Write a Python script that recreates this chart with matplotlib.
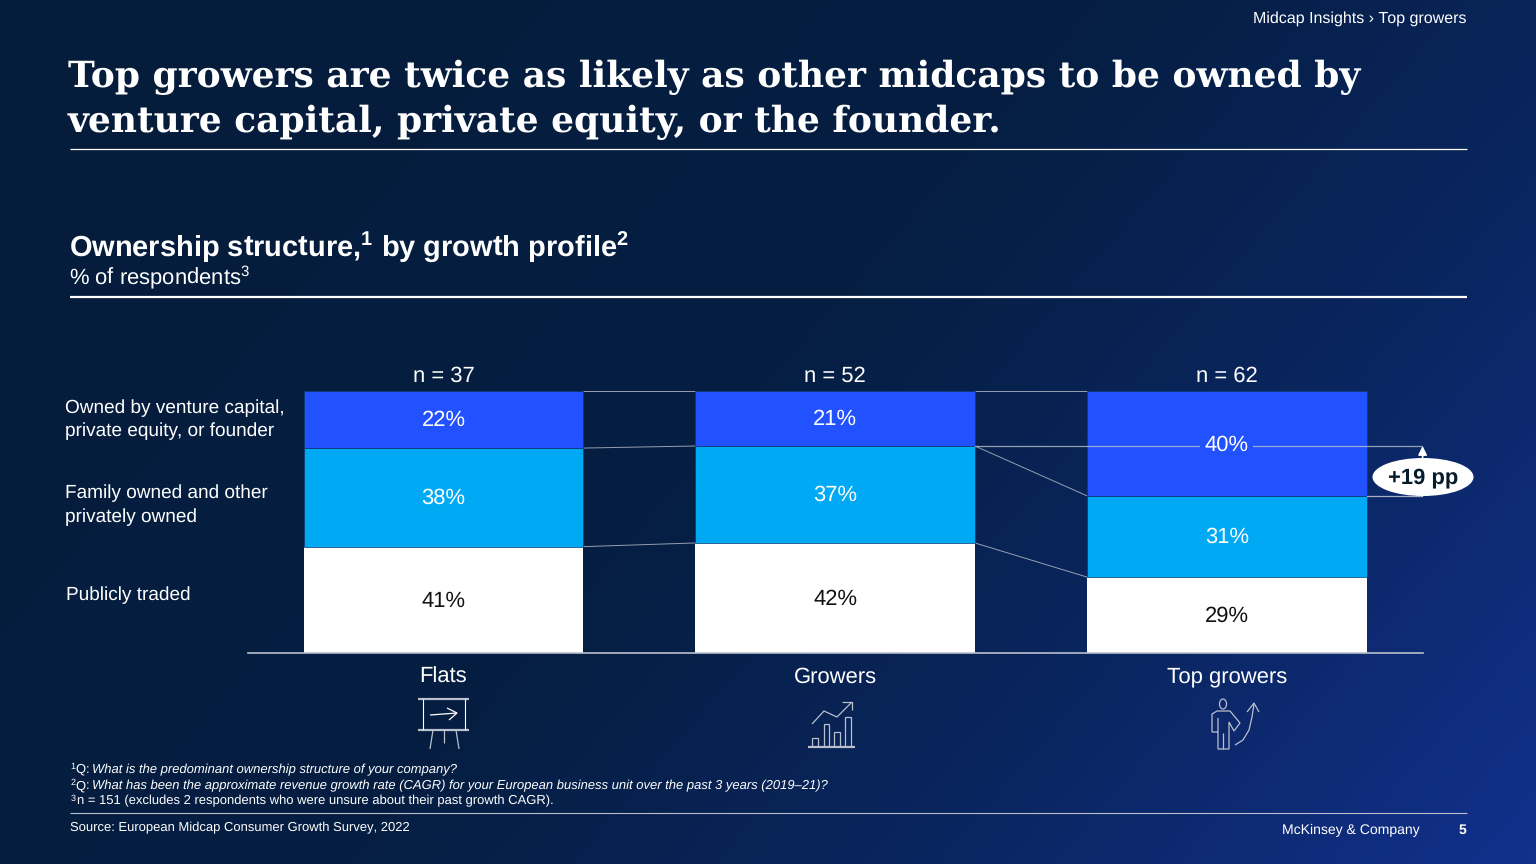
import numpy as np
import matplotlib
matplotlib.use("Agg")
import matplotlib.pyplot as plt
from matplotlib.colors import LinearSegmentedColormap
from matplotlib.patches import Ellipse

plt.rcParams["text.hinting"] = "none"
plt.rcParams["text.hinting_factor"] = 1
plt.rcParams["mathtext.default"] = "regular"

# ---------- data ----------
categories = ["Flats", "Growers", "Top growers"]
sample_sizes = ["n = 37", "n = 52", "n = 62"]
publicly_traded = [41, 42, 29]
family_owned = [38, 37, 31]
vc_pe_founder = [22, 21, 40]
series_labels = ["Owned by venture capital,\nprivate equity, or founder",
                 "Family owned and other\nprivately owned",
                 "Publicly traded"]
delta_label = "+19 pp"

SANS = "Liberation Sans"
SERIF = "DejaVu Serif"
WHITE = "#ffffff"
LINE = "#b9bfcc"
BLUE = "#2251ff"
CYAN = "#00a9f4"
NAVY = "#051c2c"

W, H = 1536, 864
fig = plt.figure(figsize=(W / 100, H / 100), dpi=100)

# ---------- background ----------
bg = fig.add_axes([0, 0, 1, 1], zorder=0)
yy, xx = np.mgrid[0:1:216j, 0:1:384j]
t = np.clip(0.78 * xx + 0.38 * yy, 0, 1.16) / 1.16
cmap = LinearSegmentedColormap.from_list(
    "bg", [(0, "#051c3a"), (0.48, "#051e42"), (0.74, "#0a2660"), (1, "#12308c")])
bg.imshow(t, cmap=cmap, aspect="auto", extent=[0, W, H, 0], interpolation="bilinear")
bg.set_xlim(0, W)
bg.set_ylim(H, 0)
bg.axis("off")

# ---------- chart ----------
ax = fig.add_axes([247.6 / W, 1 - 653 / H, 1175 / W, 262 / H], zorder=2)
ax.patch.set_alpha(0)
x = np.arange(len(categories))
pub = np.array(publicly_traded, float)
fam = np.array(family_owned, float)
vc = np.array(vc_pe_founder, float)
tot = pub + fam + vc
p1, p2, p3 = pub / tot * 100, fam / tot * 100, vc / tot * 100
bw = 0.714
edge = dict(edgecolor="#0b3a6c", linewidth=0.5)
ax.bar(x, p1, bw, color=WHITE, zorder=3)
ax.bar(x, p2, bw, bottom=p1, color=CYAN, zorder=3, **edge)
ax.bar(x, p3, bw, bottom=p1 + p2, color=BLUE, zorder=3, **edge)
ax.set_xlim(-0.5, 2.5)
ax.set_ylim(0, 100)
ax.axis("off")
ax.plot([-0.5, 2.5], [0, 0], color=LINE, lw=1.2, zorder=4, clip_on=False)

# connectors between the bars, through the cumulative boundaries
for lvl in (p1, p1 + p2, p1 + p2 + p3):
    for i in range(2):
        ax.plot([x[i] + bw / 2, x[i + 1] - bw / 2], [lvl[i], lvl[i + 1]],
                color=LINE, lw=0.7, alpha=0.8, zorder=2, clip_on=False)

# value labels
bottoms = (np.zeros(3), p1, p1 + p2)
heights = (p1, p2, p3)
values = (publicly_traded, family_owned, vc_pe_founder)
colors = ("#111111", WHITE, WHITE)
level_hi = p1[1] + p2[1]
level_lo = p1[2] + p2[2]
for i in x:
    for s in range(3):
        is_top = s == 2 and i == 2
        shift = -0.6 if s == 0 else -0.3
        ypos = level_hi + 0.5 if is_top else bottoms[s][i] + heights[s][i] / 2 + shift
        bbox = dict(facecolor=BLUE, edgecolor="none", pad=3) if is_top else None
        ax.text(i, ypos, f"{values[s][i]}%", ha="center", va="center", color=colors[s],
                fontsize=16.2, family=SANS, zorder=6, bbox=bbox)
    ax.text(i, 101.8, sample_sizes[i], ha="center", va="bottom", color=WHITE,
            fontsize=15.5, family=SANS)
    ax.text(i, -5.1, categories[i], ha="center", va="top", color=WHITE,
            fontsize=16.1, family=SANS)

# +19 pp bracket
ax.plot([x[1] + bw / 2, 2.5], [level_hi, level_hi], color=LINE, lw=0.9, alpha=0.8, zorder=5)
ax.plot([x[2] + bw / 2, 2.5], [level_lo, level_lo], color=LINE, lw=0.9, alpha=0.9, zorder=5)
ax.annotate("", xy=(2.5, level_hi), xytext=(2.5, level_lo), zorder=6,
            arrowprops=dict(arrowstyle="-|>", color=WHITE, lw=1.2, mutation_scale=13,
                            shrinkA=0, shrinkB=0))

# ---------- overlay in pixel units ----------
ov = fig.add_axes([0, 0, 1, 1], zorder=5)
ov.patch.set_alpha(0)
ov.set_xlim(0, W)
ov.set_ylim(H, 0)
ov.axis("off")


def T(px, py, s, size, color=WHITE, weight="normal", style="normal", ha="left", va="center",
      family=SANS, ls=None):
    kw = {} if ls is None else {"linespacing": ls}
    return ov.text(px, py, s, fontsize=size, color=color, fontweight=weight, fontstyle=style,
                   ha=ha, va=va, family=family, **kw)


def L(xs, ys, lw=0.9, color=LINE, alpha=1.0):
    ov.plot(xs, ys, color=color, lw=lw, alpha=alpha, solid_capstyle="butt",
            solid_joinstyle="miter")


ov.add_patch(Ellipse((1423, 477), 101, 38, facecolor=WHITE, edgecolor="none", zorder=7))
T(1423, 478, delta_label, 15.5, color=NAVY, weight="bold", ha="center").set_zorder(8)

T(1466, 19, "Midcap Insights › Top growers", 11.5, ha="right")
T(68, 77.5, "Top growers are twice as likely as other midcaps to be owned by", 26.2, weight="bold", family=SERIF)
T(68, 122.5, "venture capital, private equity, or the founder.", 26.2, weight="bold", family=SERIF)
L([70, 1467], [149, 149], 0.9, WHITE)
T(69, 247, "Ownership structure,$^{1}$ by growth profile$^{2}$", 20.6, weight="bold")
T(69, 277, "% of respondents$^{3}$", 15.7)
L([70, 1467], [296.5, 296.5], 1.6, WHITE)

T(65, 419.5, series_labels[0], 13.7, ls=1.42)
T(65, 505, series_labels[1], 13.7, ls=1.42)
T(66, 595, series_labels[2], 13.7)

T(70, 769, "$^{1}$Q:", 9.1)
T(92, 770, "What is the predominant ownership structure of your company?", 9.1, style="italic")
T(70, 785, "$^{2}$Q:", 9.1)
T(92, 786, "What has been the approximate revenue growth rate (CAGR) for your European business unit over the past 3 years (2019–21)?", 9.1, style="italic")
T(70, 800, "$^{3}$", 9.1)
T(77, 801, "n = 151 (excludes 2 respondents who were unsure about their past growth CAGR).", 9.1)
L([70, 1467], [813, 813], 0.8)
T(70, 828, "Source: European Midcap Consumer Growth Survey, 2022", 9.1)
T(1420, 830, "McKinsey & Company", 10.4, ha="right")
T(1466, 830, "5", 10.4, weight="bold", ha="right")

# ---------- icons ----------
# flip chart
L([418, 469], [699, 699], 1.6)
L([418, 469], [730, 730], 1.6)
L([423, 423], [699, 730], 0.8, WHITE)
L([465, 465], [699, 730], 0.8, WHITE)
L([430, 457], [715, 713], 0.9, WHITE)
L([447, 457, 449], [708, 713, 720], 0.9, WHITE)
L([433, 430], [730, 749])
L([444, 444], [730, 743])
L([456, 459], [730, 749])
# growth chart
L([808, 855], [747, 747], 1.6)
for x0, x1, top in ((812, 818, 738), (824, 829, 724), (834, 840, 732), (845, 851, 717)):
    L([x0, x0, x1, x1], [747, top, top, 747])
L([812, 824, 837, 852], [724, 711, 717, 702])
L([842, 852, 852], [702, 702, 710])
# person
ov.add_patch(Ellipse((1223, 704), 7, 10, facecolor="none", edgecolor=LINE, lw=0.9))
L([1218, 1212, 1212, 1217, 1230, 1240, 1234, 1229, 1229, 1218, 1218],
  [732, 732, 714, 711, 711, 723, 731, 722, 749, 749, 718])
L([1223, 1223], [733, 749])
L([1235, 1243, 1249, 1252, 1254], [745, 740, 730, 717, 704])
L([1247, 1254, 1259], [712, 703, 712])

fig.savefig("out.png", dpi=100)
